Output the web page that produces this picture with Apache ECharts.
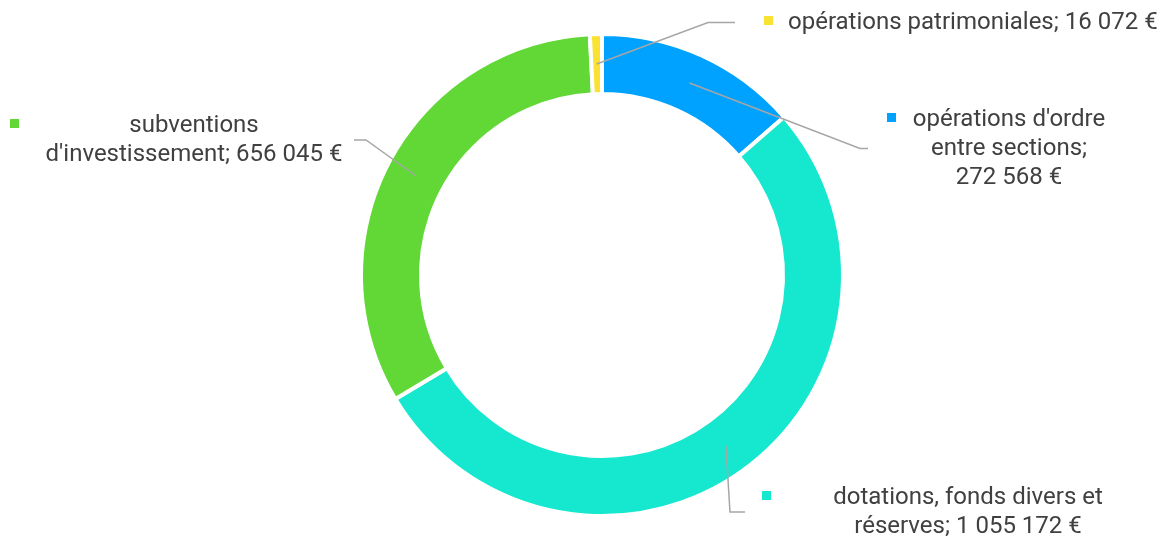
<!DOCTYPE html>
<html>
<head>
<meta charset="utf-8">
<script src="https://cdn.jsdelivr.net/npm/echarts@6/dist/echarts.min.js"></script>
<style>
  html, body { margin: 0; padding: 0; background: #fff; }
  #chart { width: 1169px; height: 536px; }
</style>
</head>
<body>
<div id="chart"></div>
<script>
// data, clockwise from 12 o'clock
const categories = [
  "opérations d'ordre\nentre sections",
  'dotations, fonds divers et\nréserves',
  "subventions\nd'investissement",
  'opérations patrimoniales'
]
const values = [272568, 1055172, 656045, 16072]
const colors = ['#00A2FF', '#16E7CF', '#61D836', '#FAE232']
// value printed on its own line?
const valueOnNewLine = [true, false, false, false]

// label boxes (left edge incl. padding, top of first line)
const labelX = [868, 745, 10, 735]
const labelY = [103, 481, 109, 6]
const labelWidth = [220, 388, 344, null]
const labelPadLeft = [19, 17, 0, 29]
const lineTail = [8, 15, 12, 27]

const fmt = v => String(v).replace(/\B(?=(\d{3})+(?!\d))/g, ' ') + ' €'

const chart = echarts.init(document.getElementById('chart'))

const rich = {
  gap: { width: 15, height: 9, lineHeight: 29 },
  sp: { width: 24, height: 9, lineHeight: 29 },
  t: {
    align: 'center',
    verticalAlign: 'bottom',
    fontFamily: 'Roboto',
    fontSize: 24,
    lineHeight: 20,
    color: '#404040'
  }
}
colors.forEach((c, i) => {
  rich['sq' + i] = { width: 9, height: 9, backgroundColor: c, lineHeight: 29, align: 'left' }
})

const ringData = values.map((v, i) => ({
  name: categories[i],
  value: v,
  itemStyle: { color: colors[i] }
}))

const labelData = values.map((v, i) => ({
  name: categories[i],
  value: v,
  label: {
    width: labelWidth[i] == null ? undefined : labelWidth[i],
    padding: [0, 0, 4, labelPadLeft[i]]
  },
  labelLine: { length2: lineTail[i] }
}))

chart.setOption({
  animation: false,
  series: [
    {
      // the ring itself
      type: 'pie',
      center: [602, 275],
      radius: [181, 241],
      startAngle: 90,
      silent: true,
      label: { show: false },
      labelLine: { show: false },
      itemStyle: { borderColor: '#fff', borderWidth: 4 },
      data: ringData
    },
    {
      // transparent pie carrying labels, lines start mid-ring
      type: 'pie',
      z: 3,
      center: [602, 275],
      radius: [0, 211],
      startAngle: 90,
      silent: true,
      avoidLabelOverlap: false,
      itemStyle: { color: 'rgba(0,0,0,0)' },
      label: {
        show: true,
        position: 'outside',
        fontFamily: 'Roboto',
        fontSize: 24,
        lineHeight: 29,
        color: '#404040',
        rich: rich,
        formatter: function (p) {
          const i = p.dataIndex
          const text = categories[i] + ';' + (valueOnNewLine[i] ? '\n' : ' ') + fmt(values[i])
          return text.split('\n').map((line, k) =>
            (k === 0 ? '{sq' + i + '|}{gap|}' : '{sp|}') + '{t|' + line + '}'
          ).join('\n')
        }
      },
      labelLine: {
        show: true,
        length: 10,
        minTurnAngle: 60,
        lineStyle: { color: '#A6A6A6', width: 1.5, opacity: 1 }
      },
      labelLayout: function (params) {
        const i = params.dataIndex
        return { x: labelX[i], y: labelY[i], align: 'left', verticalAlign: 'top' }
      },
      data: labelData
    }
  ]
})
</script>
</body>
</html>
